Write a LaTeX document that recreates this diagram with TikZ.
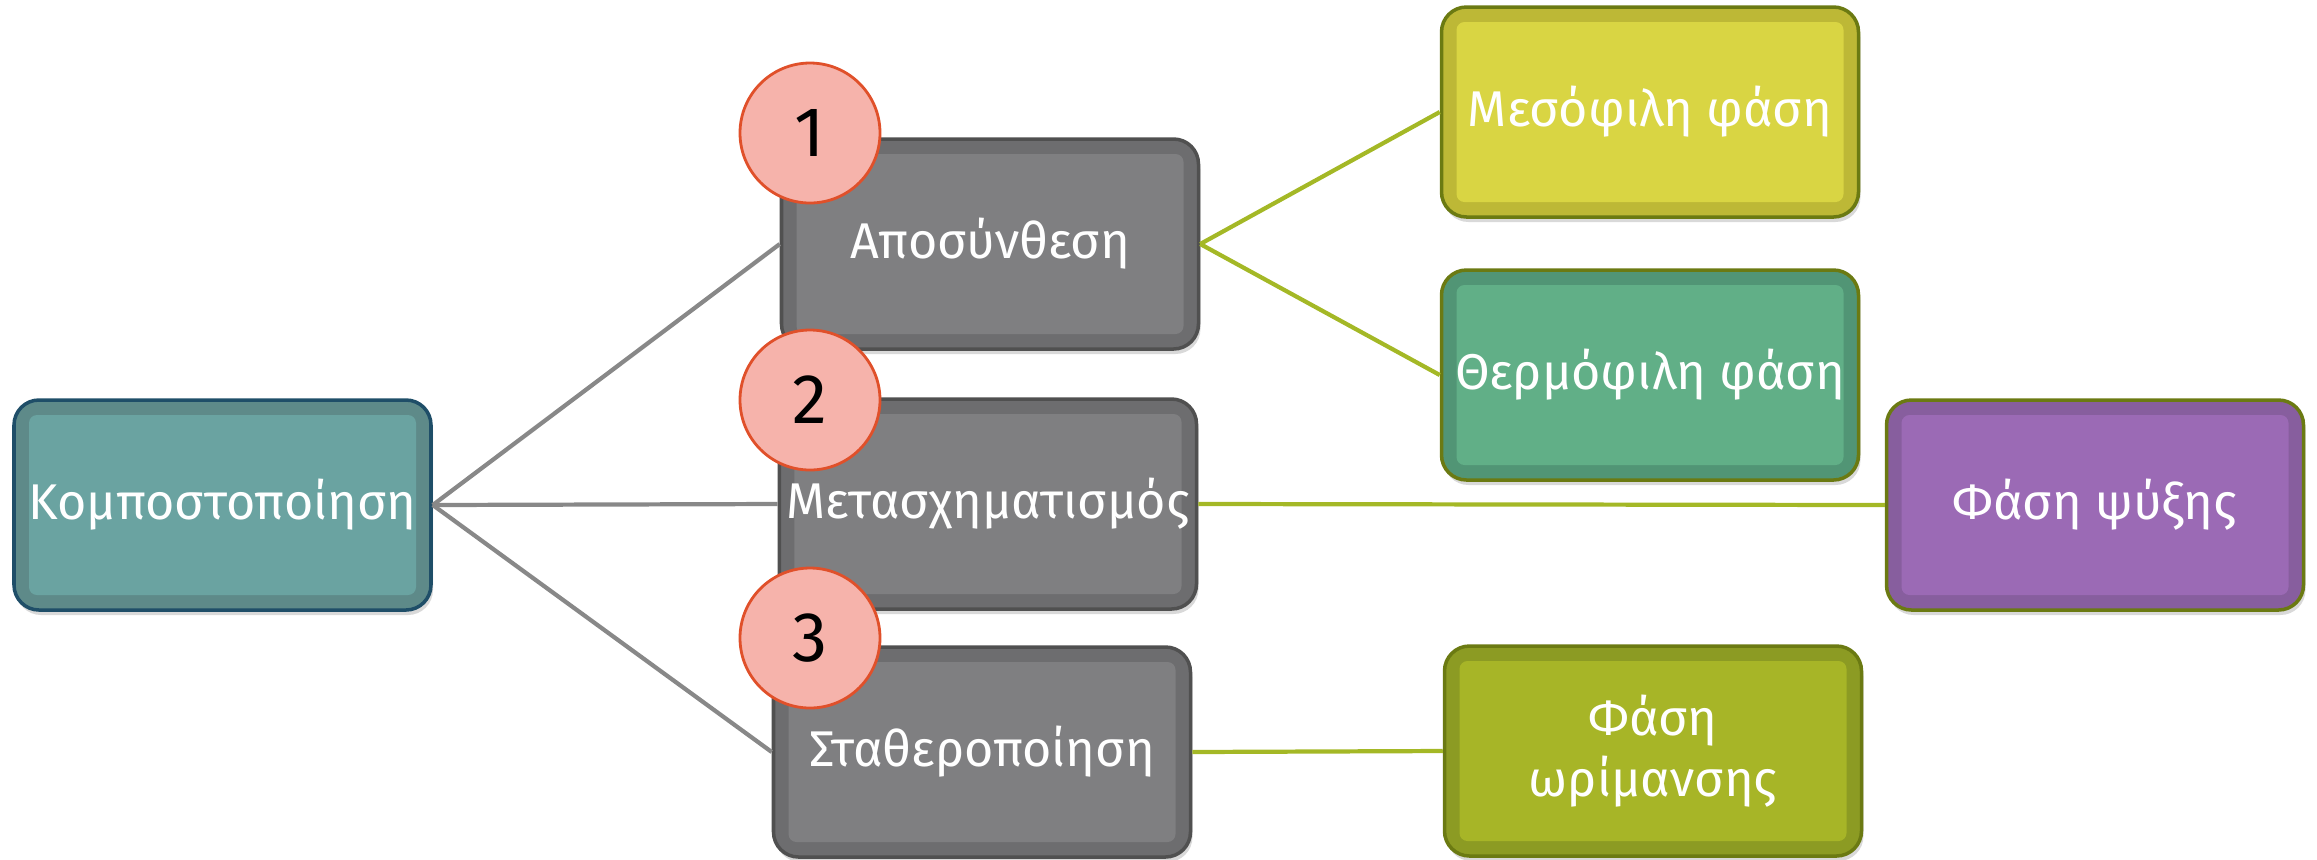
\documentclass[tikz,border=0pt]{standalone}
\usepackage{fontspec}
\setmainfont{Fira Sans}
\usetikzlibrary{shadows}
\definecolor{rimblue}{HTML}{1F4E68}
\definecolor{ringteal}{HTML}{5E8A89}
\definecolor{fillteal}{HTML}{6AA3A1}
\definecolor{rimgray}{HTML}{505050}
\definecolor{ringgray}{HTML}{6D6D6F}
\definecolor{fillgray}{HTML}{7F7F81}
\definecolor{rimolive}{HTML}{6B7A12}
\definecolor{ringyellow}{HTML}{BDB836}
\definecolor{fillyellow}{HTML}{D9D543}
\definecolor{ringgreen}{HTML}{519575}
\definecolor{fillgreen}{HTML}{61AF87}
\definecolor{ringpurple}{HTML}{875E9E}
\definecolor{fillpurple}{HTML}{9B6AB5}
\definecolor{ringlime}{HTML}{8C9B23}
\definecolor{filllime}{HTML}{A7B527}
\definecolor{badgefill}{HTML}{F6B3AB}
\definecolor{badgerim}{HTML}{E0502A}
\definecolor{linkgray}{HTML}{888888}
\definecolor{linkgreen}{HTML}{A4B826}
\tikzset{
  box/.style n args={3}{draw=#1,fill=#2,line width=1pt,rounded corners=0.25cm,
    minimum width=4.17cm,minimum height=2.1cm,inner xsep=2pt,align=center,
    text=white,font=\fontsize{14.3}{17.5}\selectfont,
    drop shadow={shadow xshift=0.02cm,shadow yshift=-0.05cm,opacity=0.3},
    path picture={\fill[#3,rounded corners=0.08cm]
      ([shift={(0.15,-0.15)}]path picture bounding box.north west) rectangle
      ([shift={(-0.15,0.15)}]path picture bounding box.south east);}},
  badge/.style={circle,draw=badgerim,fill=badgefill,line width=0.8pt,
    minimum size=1.4cm,inner sep=0pt,font=\fontsize{20}{22}\selectfont},
  link/.style={draw=#1,line width=1.2pt}
}
\begin{document}
\begin{tikzpicture}
\useasboundingbox (0,0) rectangle (23.17,-8.59);
\node (kom) at (2.225,-5.05)[box={rimblue}{ringteal}{fillteal}]{Κομποστοποίηση};
\node (apo) at (9.90,-2.44)[box={rimgray}{ringgray}{fillgray}]{Αποσύνθεση};
\node (met) at (9.88,-5.04)[box={rimgray}{ringgray}{fillgray}]{Μετασχηματισμός};
\node (sta) at (9.82,-7.52)[box={rimgray}{ringgray}{fillgray}]{Σταθεροποίηση};
\node (mes) at (16.50,-1.12)[box={rimolive}{ringyellow}{fillyellow}]{Μεσόφιλη φάση};
\node (the) at (16.50,-3.75)[box={rimolive}{ringgreen}{fillgreen}]{Θερμόφιλη φάση};
\node (psy) at (20.95,-5.05)[box={rimolive}{ringpurple}{fillpurple}]{Φάση ψύξης};
\node (ori) at (16.53,-7.51)[box={rimolive}{ringlime}{filllime}]{Φάση\\ωρίμανσης};
\draw[link=linkgray] (kom.east) -- (apo.west);
\draw[link=linkgray] (kom.east) -- (met.west);
\draw[link=linkgray] (kom.east) -- (sta.west);
\draw[link=linkgreen] (apo.east) -- (mes.west);
\draw[link=linkgreen] (apo.east) -- (the.west);
\draw[link=linkgreen] (met.east) -- (psy.west);
\draw[link=linkgreen] (sta.east) -- (ori.west);
\node (one) at (8.10,-1.33)[badge]{1};
\node (two) at (8.10,-4.00)[badge]{2};
\node (three) at (8.10,-6.38)[badge]{3};
\end{tikzpicture}
\end{document}
